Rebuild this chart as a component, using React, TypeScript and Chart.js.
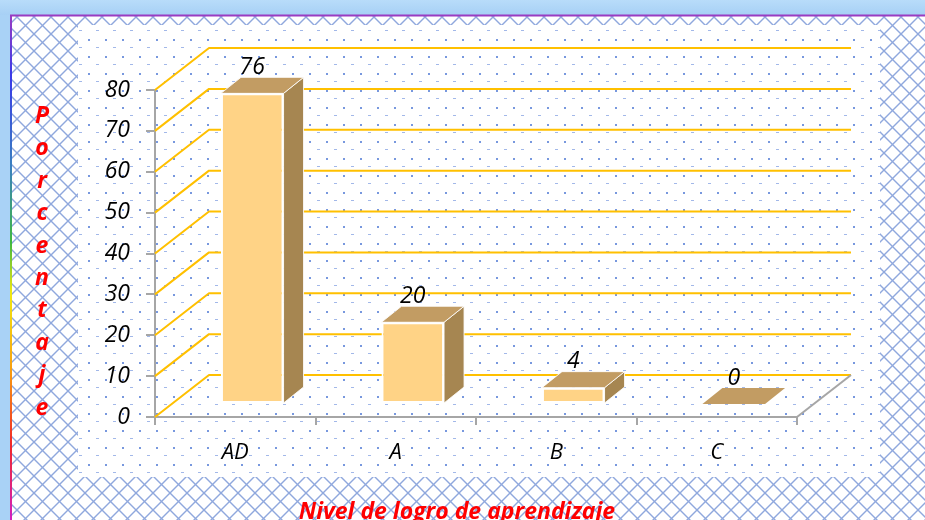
import React, { useEffect, useRef } from 'react';
import { Chart, registerables } from 'chart.js';

Chart.register(...registerables);

// ---- data ----
const categories = ['AD', 'A', 'B', 'C'];
const values = [76, 20, 4, 0];
const yTickValues = [0, 10, 20, 30, 40, 50, 60, 70, 80];
const yTitle = 'Porcentaje';
const xTitle = 'Nivel de logro de aprendizaje';

// ---- geometry / style constants ----
const W = 925;
const H = 520;
const WALL_DX = 54;
const WALL_DY = -42;
const BAR_OX = 17;
const BAR_OY = -13;
const BAR_DX = 20;
const BAR_DY = -16;
const FONT = '"Open Sans", Lato, sans-serif';

function makeLattice(): HTMLCanvasElement {
  const s = 17;
  const c = document.createElement('canvas');
  c.width = s;
  c.height = s;
  const g = c.getContext('2d')!;
  g.fillStyle = '#ffffff';
  g.fillRect(0, 0, s, s);
  g.strokeStyle = '#8FA8DD';
  g.lineWidth = 1.4;
  for (let k = -1; k <= 1; k++) {
    g.beginPath();
    g.moveTo(k * s - 2, -2);
    g.lineTo(k * s + s + 2, s + 2);
    g.stroke();
    g.beginPath();
    g.moveTo(k * s + s + 2, -2);
    g.lineTo(k * s - 2, s + 2);
    g.stroke();
  }
  return c;
}

function makeDots(): HTMLCanvasElement {
  const s = 17;
  const c = document.createElement('canvas');
  c.width = s;
  c.height = s;
  const g = c.getContext('2d')!;
  g.fillStyle = '#ffffff';
  g.fillRect(0, 0, s, s);
  g.fillStyle = '#7898DE';
  g.fillRect(3, 5, 2, 2);
  g.fillStyle = '#A2B8E9';
  g.fillRect(11, 13, 3, 1);
  return c;
}

const backgroundPlugin = {
  id: 'bgPlugin',
  beforeDraw(chart: any) {
    const { ctx, width, height } = chart;
    ctx.save();
    const band = ctx.createLinearGradient(0, 0, 0, 15);
    band.addColorStop(0, '#B8DCFA');
    band.addColorStop(1, '#A7D0F5');
    ctx.fillStyle = '#A9D2F6';
    ctx.fillRect(0, 0, width, height);
    ctx.fillStyle = band;
    ctx.fillRect(0, 0, width, 15);

    const lattice = ctx.createPattern(makeLattice(), 'repeat');
    ctx.fillStyle = lattice;
    ctx.fillRect(11, 16, width - 11, height - 16);

    const dots = ctx.createPattern(makeDots(), 'repeat');
    ctx.fillStyle = dots;
    ctx.fillRect(78, 25, 880 - 78, 477 - 25);

    ctx.strokeStyle = '#9A3CC2';
    ctx.lineWidth = 2;
    ctx.beginPath();
    ctx.moveTo(10, 15.5);
    ctx.lineTo(width, 15.5);
    ctx.stroke();

    const g = ctx.createLinearGradient(0, 15, 0, height);
    g.addColorStop(0, '#9A3CC2');
    g.addColorStop(0.12, '#3A3AE8');
    g.addColorStop(0.3, '#3A80C0');
    g.addColorStop(0.45, '#40B840');
    g.addColorStop(0.55, '#F0E810');
    g.addColorStop(0.7, '#F8A010');
    g.addColorStop(0.85, '#F02828');
    g.addColorStop(1, '#D020C0');
    ctx.fillStyle = g;
    ctx.fillRect(10, 15, 2, height - 15);
    ctx.restore();
  },
};

const wallPlugin = {
  id: 'wallPlugin',
  beforeDatasetsDraw(chart: any) {
    const { ctx, chartArea } = chart;
    const yScale = chart.scales.y;
    const { left, right, bottom } = chartArea;
    ctx.save();
    ctx.strokeStyle = '#FFC000';
    ctx.lineWidth = 2;
    ctx.lineJoin = 'round';
    yTickValues.forEach((v) => {
      const py = yScale.getPixelForValue(v);
      ctx.beginPath();
      ctx.moveTo(left, py);
      ctx.lineTo(left + WALL_DX, py + WALL_DY);
      ctx.lineTo(right + WALL_DX, py + WALL_DY);
      ctx.stroke();
    });
    ctx.strokeStyle = '#A6A6A6';
    ctx.beginPath();
    ctx.moveTo(right, bottom);
    ctx.lineTo(right + WALL_DX, bottom + WALL_DY);
    ctx.stroke();

    // 3D faces of bars (top + side), drawn before the front faces
    const meta = chart.getDatasetMeta(0);
    meta.data.forEach((el: any) => {
      const p = el.getProps(['x', 'y', 'base', 'width'], true);
      const l = p.x - p.width / 2 + BAR_OX;
      const r = p.x + p.width / 2 + BAR_OX;
      const t = p.y + BAR_OY;
      const b = p.base + BAR_OY;
      ctx.lineWidth = 1;
      ctx.strokeStyle = 'rgba(255,255,255,0.85)';
      if (b - t > 0.5) {
        ctx.fillStyle = '#A68651';
        ctx.beginPath();
        ctx.moveTo(r, t);
        ctx.lineTo(r + BAR_DX, t + BAR_DY);
        ctx.lineTo(r + BAR_DX, b + BAR_DY);
        ctx.lineTo(r, b);
        ctx.closePath();
        ctx.fill();
        ctx.stroke();
      }
      ctx.fillStyle = '#C29C63';
      ctx.beginPath();
      ctx.moveTo(l, t);
      ctx.lineTo(l + BAR_DX, t + BAR_DY);
      ctx.lineTo(r + BAR_DX, t + BAR_DY);
      ctx.lineTo(r, t);
      ctx.closePath();
      ctx.fill();
      if (b - t > 0.5) ctx.stroke();
    });
    ctx.restore();
  },
  beforeDatasetDraw(chart: any) {
    chart.ctx.save();
    chart.ctx.translate(BAR_OX, BAR_OY);
  },
  afterDatasetDraw(chart: any) {
    chart.ctx.restore();
  },
  afterDatasetsDraw(chart: any) {
    const { ctx } = chart;
    const meta = chart.getDatasetMeta(0);
    ctx.save();
    ctx.fillStyle = '#000000';
    ctx.font = `italic 23px ${FONT}`;
    ctx.textAlign = 'center';
    ctx.textBaseline = 'middle';
    meta.data.forEach((el: any, i: number) => {
      const p = el.getProps(['x', 'y'], true);
      ctx.fillText(String(values[i]), p.x + BAR_OX, p.y + BAR_OY - 26);
    });
    ctx.restore();
  },
  afterDraw(chart: any) {
    const { ctx } = chart;
    ctx.save();
    ctx.fillStyle = '#FF0000';
    ctx.font = `italic bold 23px ${FONT}`;
    ctx.textAlign = 'center';
    ctx.textBaseline = 'alphabetic';
    const letters = yTitle.split('');
    letters.forEach((ch, i) => {
      ctx.fillText(ch, 42, 123 + i * 32.4);
    });
    ctx.font = `italic bold 23px ${FONT}`;
    ctx.fillText(xTitle, 457, 519);
    ctx.restore();
  },
};

export default function App() {
  const ref = useRef<HTMLCanvasElement | null>(null);

  useEffect(() => {
    if (!ref.current) return;
    const chart = new Chart(ref.current, {
      type: 'bar',
      data: {
        labels: categories,
        datasets: [
          {
            data: values,
            backgroundColor: '#FFD386',
            borderColor: '#FFFFFF',
            borderWidth: 2,
            borderSkipped: false,
            barPercentage: 0.39,
            categoryPercentage: 1,
            clip: false as any,
          },
        ],
      },
      options: {
        animation: false,
        responsive: false,
        maintainAspectRatio: false,
        devicePixelRatio: 1,
        events: [],
        layout: { padding: { left: 0, right: W - 797, top: 90, bottom: 0 } },
        plugins: {
          legend: { display: false },
          tooltip: { enabled: false },
          title: { display: false },
        },
        scales: {
          x: {
            type: 'category',
            offset: true,
            grid: {
              offset: true,
              drawOnChartArea: false,
              drawTicks: true,
              tickLength: 8,
              color: '#A6A6A6',
              lineWidth: 2,
            },
            border: { display: true, color: '#A6A6A6', width: 2 },
            ticks: {
              color: '#000000',
              padding: 15,
              font: { family: FONT, size: 22, style: 'italic' },
            },
            afterFit(scale: any) {
              scale.height = H - 417;
            },
          },
          y: {
            min: 0,
            max: 80,
            grid: {
              drawOnChartArea: false,
              drawTicks: true,
              tickLength: 9,
              color: '#A6A6A6',
              lineWidth: 2,
            },
            border: { display: true, color: '#A6A6A6', width: 2 },
            ticks: {
              color: '#000000',
              padding: 16,
              font: { family: FONT, size: 23, style: 'italic' },
            },
            afterBuildTicks(scale: any) {
              scale.ticks = yTickValues.map((v) => ({ value: v }));
            },
            afterFit(scale: any) {
              scale.width = 155;
            },
          },
        },
      },
      plugins: [backgroundPlugin, wallPlugin],
    } as any);
    return () => chart.destroy();
  }, []);

  return (
    <div style={{ position: 'absolute', left: 0, top: 0, width: W, height: H }}>
      <canvas ref={ref} width={W} height={H} style={{ display: 'block' }} />
    </div>
  );
}
